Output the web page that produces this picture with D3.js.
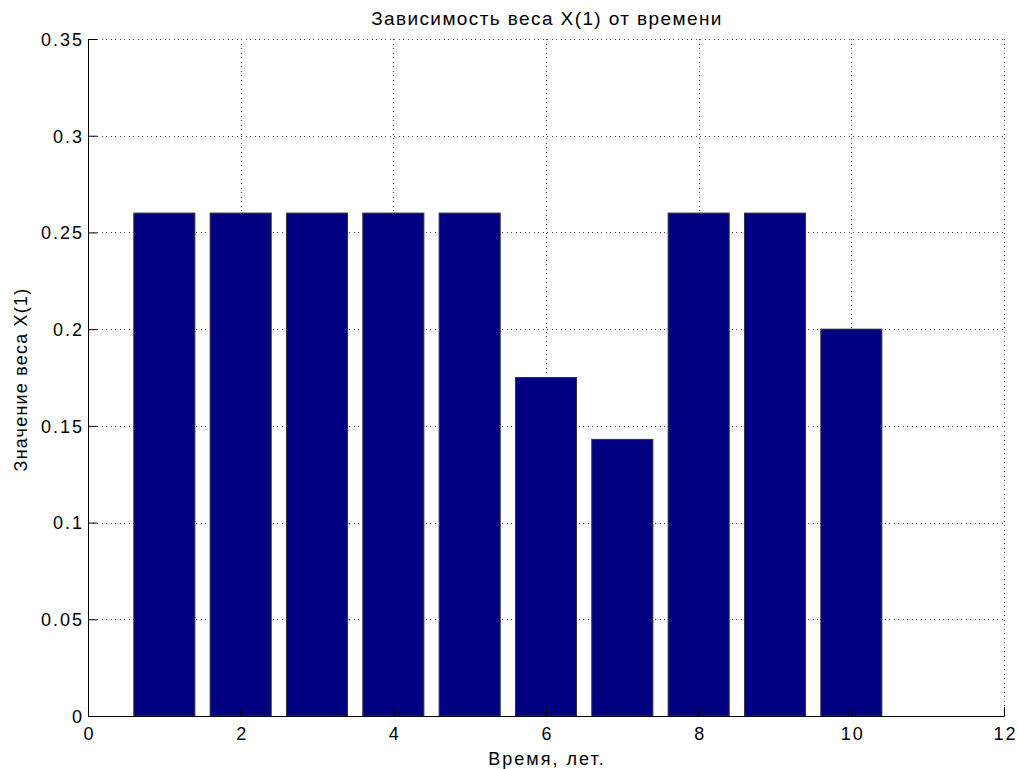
<!DOCTYPE html>
<html><head><meta charset="utf-8">
<script src="https://cdn.jsdelivr.net/npm/d3@7"></script>
<style>body{margin:0;background:#fff}svg{display:block}</style>
</head><body>
<script>
const years = [1,2,3,4,5,6,7,8,9,10];
const weights = [0.26,0.26,0.26,0.26,0.26,0.175,0.143,0.26,0.26,0.2];
const xTicks = [0,2,4,6,8,10,12];
const yTicks = [0,0.05,0.1,0.15,0.2,0.25,0.3,0.35];
const title = "Зависимость веса X(1) от времени";
const xLabel = "Время, лет.";
const yLabel = "Значение веса X(1)";

const W=1019,H=769;
const L=88,R=1004,T=39,B=716;
const FF="Arial, 'Liberation Sans', Helvetica, sans-serif";
const svg=d3.select("body").append("svg").attr("width",W).attr("height",H)
  .style("font-family",FF);
const x=d3.scaleLinear().domain([0,12]).range([L,R]);
const y=d3.scaleLinear().domain([0,0.35]).range([B,T]);

// grid
const g=svg.append("g").attr("stroke","#000").attr("stroke-width",1).attr("stroke-dasharray","1,3.5").attr("shape-rendering","crispEdges").attr("opacity",0.7);
xTicks.filter(d=>d>0).forEach(d=>g.append("line").attr("x1",Math.round(x(d))+0.5).attr("x2",Math.round(x(d))+0.5).attr("y1",T).attr("y2",B));
yTicks.filter(d=>d>0).forEach(d=>g.append("line").attr("y1",Math.round(y(d))+0.5).attr("y2",Math.round(y(d))+0.5).attr("x1",L).attr("x2",R));

// bars
const bw=0.8;
svg.append("g").selectAll("rect").data(years).join("rect")
  .attr("x",(d)=>x(d-bw/2)).attr("width",x(bw)-x(0))
  .attr("y",(d,i)=>y(weights[i])).attr("height",(d,i)=>y(0)-y(weights[i]))
  .attr("fill","#000080").attr("stroke","#333").attr("stroke-width",1);

// axes
const xa=svg.append("g").attr("transform",`translate(0,${B})`).call(d3.axisBottom(x).tickValues(xTicks).tickSize(-9).tickPadding(24).tickFormat(d3.format("d")));
const ya=svg.append("g").attr("transform",`translate(${L},0)`).call(d3.axisLeft(y).tickValues(yTicks).tickSize(-9).tickPadding(4).tickFormat(d=>d===0?"0":String(d)));
[xa,ya].forEach(a=>{a.selectAll("path,line").attr("stroke","#000");a.selectAll("text").attr("font-size",18).attr("letter-spacing",2).attr("fill","#000").attr("font-family",FF);});
xa.selectAll("text").attr("dy","0").attr("dx",1);
ya.selectAll("text").attr("dy","0.35em");

svg.append("text").attr("x",(L+R)/2+1).attr("y",25).attr("text-anchor","middle").attr("font-size",19).attr("letter-spacing",1.4).text(title);
svg.append("text").attr("x",(L+R)/2+1).attr("y",765).attr("text-anchor","middle").attr("font-size",18).attr("letter-spacing",2).text(xLabel);
svg.append("text").attr("transform",`translate(27,${(T+B)/2+2}) rotate(-90)`).attr("text-anchor","middle").attr("font-size",18).attr("letter-spacing",1.2).text(yLabel);
</script>
</body></html>
